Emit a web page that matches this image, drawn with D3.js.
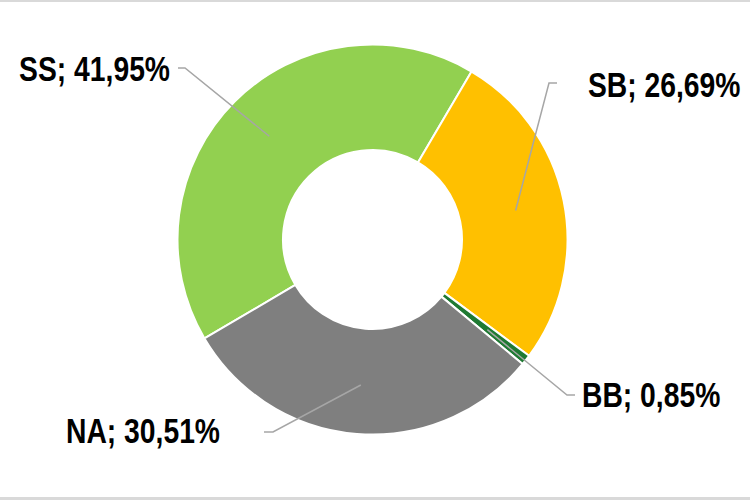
<!DOCTYPE html>
<html>
<head>
<meta charset="utf-8">
<script src="https://cdn.jsdelivr.net/npm/d3@7"></script>
<style>
  html, body { margin: 0; padding: 0; background: #fff; }
  svg { display: block; }
</style>
</head>
<body>
<svg id="chart" width="750" height="500"></svg>
<script>
// ---- data ----
const categories = ["SS", "SB", "BB", "NA"];
const values = [41.95, 26.69, 0.85, 30.51];
const colors = ["#92D050", "#FFC000", "#1F7A33", "#7F7F7F"];
const labelTexts = ["SS; 41,95%", "SB; 26,69%", "BB; 0,85%", "NA; 30,51%"];

// ---- layout (label placement) ----
const labelLayout = [
  { x: 170, y: 81, anchor: "end",   line: [[178, 68], [185, 68]] },
  { x: 588, y: 97, anchor: "start", line: [[557, 83], [549, 83]] },
  { x: 582, y: 407, anchor: "start", line: [[575, 395], [567, 395]] },
  { x: 220, y: 443, anchor: "end",  line: [[264, 432], [273, 432]] }
];

const W = 750, H = 500;
const cx = 372.5, cy = 239.5;
const outerR = 195, innerR = 89.5;
const narrow = 0.82;

const svg = d3.select("#chart");

// border lines top and bottom
svg.append("rect").attr("x", 0).attr("y", 0).attr("width", W).attr("height", 2).attr("fill", "#D9D9D9");
svg.append("rect").attr("x", 0).attr("y", 497).attr("width", W).attr("height", 3).attr("fill", "#D9D9D9");

const startDeg = -120.5;
const pie = d3.pie().sort(null).value(d => d.value)
  .startAngle(startDeg * Math.PI / 180)
  .endAngle(startDeg * Math.PI / 180 + 2 * Math.PI);

const data = categories.map((c, i) => ({ cat: c, value: values[i], color: colors[i], label: labelTexts[i], layout: labelLayout[i] }));
const arcs = pie(data);

const arc = d3.arc().innerRadius(innerR).outerRadius(outerR);
const lineArc = d3.arc().innerRadius(146).outerRadius(146);

const g = svg.append("g").attr("transform", `translate(${cx},${cy})`);

g.selectAll("path.slice").data(arcs).join("path")
  .attr("class", "slice")
  .attr("d", arc)
  .attr("fill", d => d.data.color)
  .attr("stroke", "#fff")
  .attr("stroke-width", 2)
  .attr("stroke-linejoin", "round");

// leader lines
const lineGen = d3.line();
svg.selectAll("path.leader").data(arcs).join("path")
  .attr("class", "leader")
  .attr("fill", "none")
  .attr("stroke", "#A6A6A6")
  .attr("stroke-width", 1.5)
  .attr("d", d => {
    const c = lineArc.centroid(d);
    const pts = [d.data.layout.line[0], d.data.layout.line[1], [c[0] + cx, c[1] + cy]];
    return lineGen(pts);
  });

// labels (Arial Narrow look: Liberation Sans Bold compressed horizontally)
svg.selectAll("text.lbl").data(arcs).join("text")
  .attr("class", "lbl")
  .attr("transform", d => `translate(${d.data.layout.x},${d.data.layout.y}) scale(${narrow},1)`)
  .attr("text-anchor", d => d.data.layout.anchor)
  .attr("font-family", "'Liberation Sans', Arial, sans-serif")
  .attr("font-weight", "bold")
  .attr("font-size", 34.5)
  .attr("fill", "#000")
  .text(d => d.data.label);
</script>
</body>
</html>
